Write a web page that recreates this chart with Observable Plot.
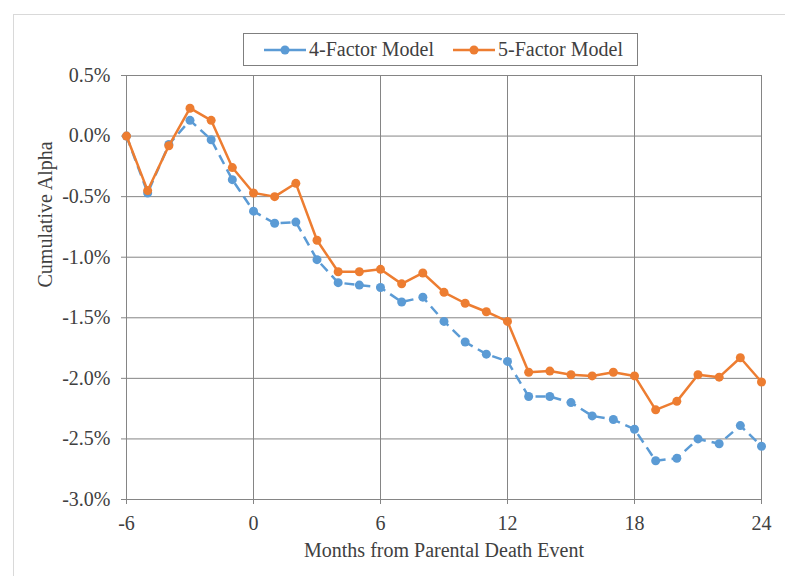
<!DOCTYPE html>
<html>
<head>
<meta charset="utf-8">
<script src="https://cdn.jsdelivr.net/npm/d3@7"></script>
<script src="https://cdn.jsdelivr.net/npm/@observablehq/plot@0.6"></script>
<style>
  html, body { margin: 0; padding: 0; background: #fff; }
  #wrap { position: relative; width: 785px; height: 576px; overflow: hidden; font-family: "Liberation Serif", "Times New Roman", serif; color: #404040; }
  #frame { position: absolute; left: 13px; top: 14px; width: 800px; height: 600px; border-left: 1px solid #d9d9d9; border-top: 1px solid #d9d9d9; }
  #chart { position: absolute; left: 0; top: 0; }
  #chart svg text { font-family: "Liberation Serif", "Times New Roman", serif; }
  #legend { position: absolute; left: 243px; top: 33px; width: 393px; height: 31px; border: 1px solid #7f7f7f; background: #fff; box-sizing: content-box; }
  .item { position: absolute; top: 0; height: 31px; display: flex; align-items: center; font-size: 20px; white-space: nowrap; }
  .item svg { display: block; margin-right: 2px; }
</style>
</head>
<body>
<div id="wrap">
  <div id="frame"></div>
  <div id="chart"></div>
  <div id="legend"></div>
</div>
<script>
// Data
const months = [-6, -5, -4, -3, -2, -1, 0, 1, 2, 3, 4, 5, 6, 7, 8, 9, 10, 11, 12, 13, 14, 15, 16, 17, 18, 19, 20, 21, 22, 23, 24];
const fourFactor = [0.00, -0.47, -0.07, 0.13, -0.03, -0.36, -0.62, -0.72, -0.71, -1.02, -1.21, -1.23, -1.25, -1.37, -1.33, -1.53, -1.70, -1.80, -1.86, -2.15, -2.15, -2.20, -2.31, -2.34, -2.42, -2.68, -2.66, -2.50, -2.54, -2.39, -2.56];
const fiveFactor = [0.00, -0.45, -0.08, 0.23, 0.13, -0.26, -0.47, -0.50, -0.39, -0.86, -1.12, -1.12, -1.10, -1.22, -1.13, -1.29, -1.38, -1.45, -1.53, -1.95, -1.94, -1.97, -1.98, -1.95, -1.98, -2.26, -2.19, -1.97, -1.99, -1.83, -2.03];
const seriesNames = ["4-Factor Model", "5-Factor Model"];
const seriesColors = ["#5b9bd5", "#ed7d31"];
const xTicks = [-6, 0, 6, 12, 18, 24];
const yTicks = [0.5, 0.0, -0.5, -1.0, -1.5, -2.0, -2.5, -3.0];
const xLabel = "Months from Parental Death Event";
const yLabel = "Cumulative Alpha";

const four = months.map((m, i) => ({month: m, value: fourFactor[i]}));
const five = months.map((m, i) => ({month: m, value: fiveFactor[i]}));

const gridColor = "#858585";
const serif = "'Liberation Serif', 'Times New Roman', serif";

const chart = Plot.plot({
  width: 785,
  height: 576,
  marginLeft: 126,
  marginRight: 24,
  marginTop: 75,
  marginBottom: 77,
  style: { fontFamily: serif, fontSize: "20px", color: "#404040", background: "transparent" },
  x: { domain: [-6, 24] },
  y: { domain: [-3, 0.5] },
  marks: [
    Plot.gridX(xTicks, { stroke: gridColor, strokeOpacity: 1, strokeWidth: 1 }),
    Plot.gridY(yTicks, { stroke: gridColor, strokeOpacity: 1, strokeWidth: 1 }),
    Plot.axisX(xTicks, { tickSize: 5, tickPadding: 11, tickFormat: d => String(d), label: null, stroke: gridColor, fill: "#404040", fontFamily: serif, fontSize: 20, fontVariant: "normal" }),
    Plot.axisY(yTicks, { tickSize: 5, tickPadding: 11, tickFormat: d => d.toFixed(1) + "%", label: null, stroke: gridColor, fill: "#404040", fontFamily: serif, fontSize: 20, fontVariant: "normal" }),
    Plot.ruleX([-6], { stroke: gridColor }),
    Plot.ruleY([-3], { stroke: gridColor }),
    Plot.line(four, { x: "month", y: "value", stroke: seriesColors[0], strokeWidth: 2.5, strokeDasharray: "10,6", strokeLinecap: "butt" }),
    Plot.dot(four, { x: "month", y: "value", r: 4.5, fill: seriesColors[0], stroke: "none" }),
    Plot.line(five, { x: "month", y: "value", stroke: seriesColors[1], strokeWidth: 2.5 }),
    Plot.dot(five, { x: "month", y: "value", r: 4.5, fill: seriesColors[1], stroke: "none" }),
    Plot.text([xLabel], { frameAnchor: "bottom", dy: 57, fill: "#404040", fontSize: 20, fontFamily: serif }),
    Plot.text([yLabel], { frameAnchor: "left", dx: -81, rotate: -90, fill: "#404040", fontSize: 20, fontFamily: serif })
  ]
});
document.getElementById("chart").appendChild(chart);

// Legend
const legend = document.getElementById("legend");
const legendPos = [19, 208];
seriesNames.forEach((name, i) => {
  const item = document.createElement("div");
  item.className = "item";
  item.style.left = legendPos[i] + "px";
  item.innerHTML = `<svg width="44" height="12"><line x1="1" y1="6" x2="43" y2="6" stroke="${seriesColors[i]}" stroke-width="2.5"/><circle cx="22" cy="6" r="4.5" fill="${seriesColors[i]}"/></svg><span>${name}</span>`;
  legend.appendChild(item);
});
</script>
</body>
</html>
